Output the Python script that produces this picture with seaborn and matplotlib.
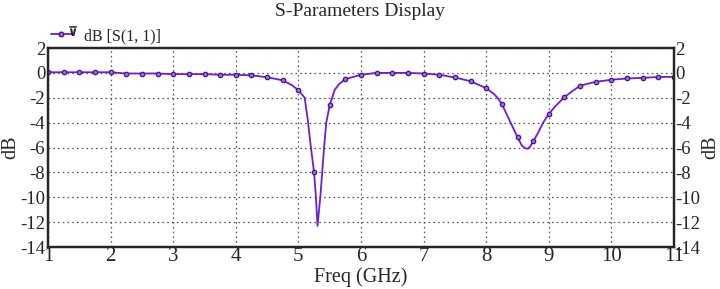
import matplotlib
matplotlib.use("Agg")
import matplotlib.pyplot as plt
import seaborn as sns
import pandas as pd
from matplotlib.lines import Line2D

# marker samples every 0.25 GHz
marker_freq = [1.0, 1.25, 1.5, 1.75, 2.0, 2.25, 2.5, 2.75, 3.0, 3.25, 3.5, 3.75,
               4.0, 4.25, 4.5, 4.75, 5.0, 5.25, 5.5, 5.75, 6.0, 6.25, 6.5, 6.75,
               7.0, 7.25, 7.5, 7.75, 8.0, 8.25, 8.5, 8.75, 9.0, 9.25, 9.5, 9.75,
               10.0, 10.25, 10.5, 10.75, 11.0]
marker_db = [0.05, 0.05, 0.05, 0.05, 0.05, -0.05, -0.05, -0.05, -0.1, -0.1, -0.1, -0.15,
             -0.15, -0.2, -0.35, -0.6, -1.4, -8.0, -2.6, -0.5, -0.15, 0.0, 0.0, 0.0,
             -0.05, -0.15, -0.37, -0.67, -1.23, -2.5, -5.17, -5.5, -3.3, -1.95, -1.04, -0.72,
             -0.55, -0.45, -0.4, -0.33, -0.32]

# extra points read along the curve between the markers
extra_freq = [4.9, 5.1, 5.15, 5.2, 5.28, 5.305, 5.35, 5.38, 5.41, 5.445, 5.58, 5.65,
              8.125, 8.18, 8.39, 8.57, 8.62, 8.66, 8.7, 8.82, 8.91, 9.1, 9.38, 9.6]
extra_db = [-1.0, -2.0, -3.8, -6.0, -10.0, -12.3, -10.0, -8.0, -6.0, -4.0, -1.36, -0.9,
            -1.7, -2.0, -4.0, -5.85, -6.05, -6.1, -5.95, -4.9, -4.0, -2.7, -1.45, -0.9]

line_df = pd.DataFrame({"freq": marker_freq + extra_freq, "db": marker_db + extra_db})
line_df = line_df.sort_values("freq")
marker_df = pd.DataFrame({"freq": marker_freq, "db": marker_db})

yticks = [2, 0, -2, -4, -6, -8, -10, -12, -14]
xticks = list(range(1, 12))

sns.set_style("ticks")
plt.rcParams["font.family"] = ["Liberation Serif", "DejaVu Serif"]
plt.rcParams["axes.unicode_minus"] = False

line_color = "#6a1ed8"
fig = plt.figure(figsize=(7.2, 2.89), dpi=100)
ax = fig.add_axes([0.0667, 0.1453, 0.8694, 0.6886])

sns.lineplot(data=line_df, x="freq", y="db", ax=ax, color=line_color, lw=1.3,
             sort=False, estimator=None)
sns.scatterplot(data=marker_df, x="freq", y="db", ax=ax, marker="o", s=10,
                color="#9a70e8", edgecolor="#4a1090", linewidth=0.9, zorder=3)

ax.set_xlim(1, 11)
ax.set_ylim(-14, 2)
ax.set_xticks(xticks)
ax.set_yticks(yticks)
ax.grid(True, color="#555555", linestyle=(0, (1.3, 2.5)), linewidth=0.9)
for s in ax.spines.values():
    s.set_linewidth(1.6)
    s.set_color("black")
ax.tick_params(axis="y", length=0, labelsize=13.5, pad=2)
ax.tick_params(axis="x", length=0, labelsize=15, pad=0)
ax.set_xlabel("Freq (GHz)", fontsize=14.5, labelpad=1)
ax.set_ylabel("dB", fontsize=14.5)
ax.yaxis.set_label_coords(-0.045, 0.5)

ax2 = ax.twinx()
ax2.set_ylim(-14, 2)
ax2.set_yticks(yticks)
ax2.tick_params(length=0, labelsize=13.5, pad=1)
ax2.set_ylabel("dB", fontsize=14.5)
ax2.yaxis.set_label_coords(1.043, 0.5)
for s in ax2.spines.values():
    s.set_linewidth(1.6)

fig.text(0.5, 1 - 12 / 289, "S-Parameters Display", fontsize=14, ha="center", va="center")

handle = Line2D([], [], color=line_color, lw=1.3, marker="o", markersize=3.3,
                markerfacecolor="#9a70e8", markeredgecolor="#4a1090")
leg = ax.legend([handle], ["dB [S(1, 1)]"], loc="lower left", bbox_to_anchor=(-0.002, 1.0),
                frameon=False, fontsize=11.5, handlelength=1.3, handletextpad=0.75,
                borderaxespad=0.15, borderpad=0.1)
fig.text(73 / 720, 1 - 33 / 289, "\u22bd", fontsize=9, va="center", ha="center",
         family=["DejaVu Sans"], color="#222222", weight="bold")

fig.savefig("out.png", dpi=100)
